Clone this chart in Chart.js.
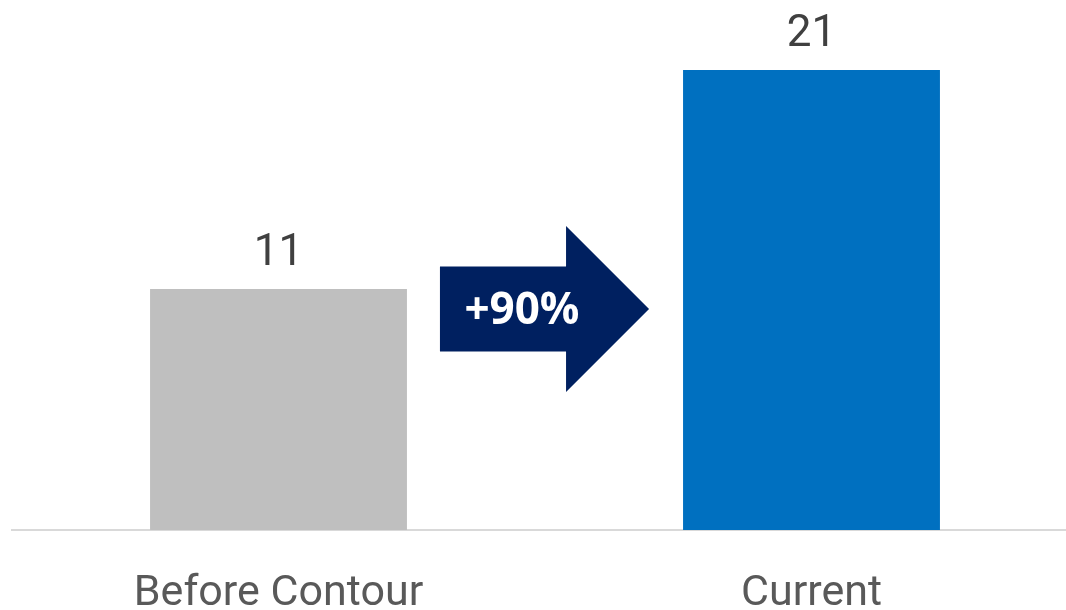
<!DOCTYPE html>
<html>
<head>
<meta charset="utf-8">
<script src="https://cdn.jsdelivr.net/npm/chart.js@4.4.0/dist/chart.umd.min.js"></script>
<style>
  html, body { margin: 0; padding: 0; background: #fff; overflow: hidden; }
  #wrap { position: relative; width: 1078px; height: 614px; }
</style>
</head>
<body>
<div id="wrap"><canvas id="chart"></canvas></div>
<script>
// ข้อมูลของกราฟ
const categories = ['Before Contour', 'Current'];
const values = [11, 21];
const barColors = ['#BFBFBF', '#0070C0'];
const changeLabel = '+90%';

const fontFamily = 'Roboto, "Noto Sans", sans-serif';

// ป้ายตัวเลขเหนือแท่ง
const valueLabels = {
    id: 'valueLabels',
    afterDatasetsDraw(chart) {
        const ctx = chart.ctx;
        const meta = chart.getDatasetMeta(0);
        ctx.save();
        ctx.fillStyle = '#404040';
        ctx.font = '44px ' + fontFamily;
        ctx.textAlign = 'center';
        ctx.textBaseline = 'alphabetic';
        meta.data.forEach((bar, i) => {
            ctx.fillText(String(values[i]), bar.x, bar.y - 24);
        });
        ctx.restore();
    }
};

// ลูกศรแสดงการเปลี่ยนแปลงระหว่างแท่ง
const changeArrow = {
    id: 'changeArrow',
    afterDatasetsDraw(chart) {
        const ctx = chart.ctx;
        const meta = chart.getDatasetMeta(0);
        const b1 = meta.data[0], b2 = meta.data[1];
        const left = b1.x + b1.width / 2 + 33;
        const tip = b2.x - b2.width / 2 - 34;
        const headX = tip - 83;
        const cy = b1.y + 20;
        const bodyH = 42.5, headH = 83;
        ctx.save();
        ctx.fillStyle = '#002060';
        ctx.beginPath();
        ctx.moveTo(left, cy - bodyH);
        ctx.lineTo(headX, cy - bodyH);
        ctx.lineTo(headX, cy - headH);
        ctx.lineTo(tip, cy);
        ctx.lineTo(headX, cy + headH);
        ctx.lineTo(headX, cy + bodyH);
        ctx.lineTo(left, cy + bodyH);
        ctx.closePath();
        ctx.fill();
        ctx.fillStyle = '#FFFFFF';
        ctx.font = 'bold 44px "Open Sans", ' + fontFamily;
        ctx.textAlign = 'center';
        ctx.textBaseline = 'middle';
        ctx.fillText(changeLabel, left + 82, cy + 2);
        ctx.restore();
    }
};

new Chart(document.getElementById('chart'), {
    type: 'bar',
    data: {
        labels: categories,
        datasets: [{
            data: values,
            backgroundColor: barColors,
            barPercentage: 0.482,
            categoryPercentage: 1
        }]
    },
    options: {
        responsive: true,
        maintainAspectRatio: false,
        animation: false,
        layout: { padding: { left: 12, right: 0, top: 0, bottom: 0 } },
        plugins: {
            legend: { display: false },
            tooltip: { enabled: false }
        },
        scales: {
            x: {
                grid: { display: false },
                border: { display: true, color: '#D9D9D9', width: 2 },
                ticks: {
                    color: '#595959',
                    padding: 35,
                    font: { family: fontFamily, size: 43, lineHeight: 1 }
                },
                afterFit(scale) {
                    scale.height = 84;
                }
            },
            y: {
                display: false,
                min: 0,
                max: 24.2
            }
        }
    },
    plugins: [valueLabels, changeArrow]
});
</script>
</body>
</html>
